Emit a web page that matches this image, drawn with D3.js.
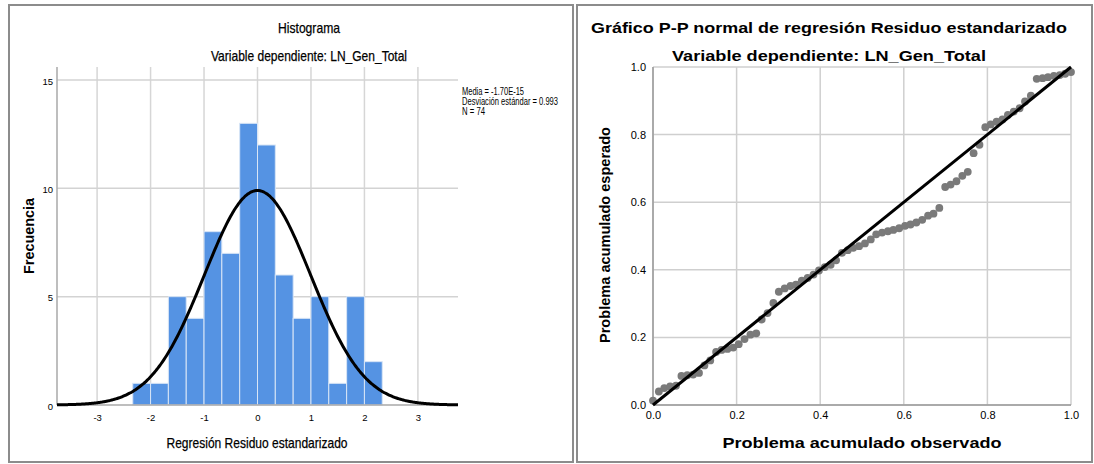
<!DOCTYPE html>
<html>
<head>
<meta charset="utf-8">
<script src="https://cdn.jsdelivr.net/npm/d3@7"></script>
<style>
body { margin: 0; background: #fff; }
svg text { font-family: "Liberation Sans", Arial, sans-serif; fill: #000; }
</style>
</head>
<body>
<script>
"use strict";
// histograma de residuos
const binEdges = [-2.333, -2.0, -1.667, -1.333, -1.0, -0.667, -0.333, 0.0, 0.333, 0.667, 1.0, 1.333, 1.667, 2.0, 2.333];
const binCounts = [1, 1, 5, 4, 8, 7, 13, 12, 6, 4, 5, 1, 5, 2];
const histXTicks = [-3, -2, -1, 0, 1, 2, 3];
const histYTicks = [0, 5, 10, 15];
const residMean = -1.70e-15;
const residSd = 0.993;
const residN = 74;
const statLines = ["Media = -1.70E-15", "Desviación estándar = 0.993", "N = 74"];

// grafico P-P
const observedProb = [0.000, 0.014, 0.027, 0.041, 0.055, 0.068, 0.082, 0.096, 0.110, 0.123,
    0.137, 0.151, 0.164, 0.178, 0.192, 0.205, 0.219, 0.233, 0.247, 0.260,
    0.274, 0.288, 0.301, 0.315, 0.329, 0.342, 0.356, 0.370, 0.384, 0.397,
    0.411, 0.425, 0.438, 0.452, 0.466, 0.479, 0.493, 0.507, 0.521, 0.534,
    0.548, 0.562, 0.575, 0.589, 0.603, 0.616, 0.630, 0.644, 0.658, 0.671,
    0.685, 0.699, 0.712, 0.726, 0.740, 0.753, 0.767, 0.781, 0.795, 0.808,
    0.822, 0.836, 0.849, 0.863, 0.877, 0.890, 0.904, 0.918, 0.932, 0.945,
    0.959, 0.973, 0.986, 1.000];
const expectedProb = [0.013, 0.040, 0.050, 0.055, 0.057, 0.086, 0.088, 0.090, 0.095, 0.117,
    0.132, 0.157, 0.163, 0.166, 0.170, 0.180, 0.195, 0.208, 0.212, 0.253,
    0.272, 0.302, 0.335, 0.345, 0.352, 0.356, 0.368, 0.376, 0.386, 0.398,
    0.408, 0.415, 0.428, 0.450, 0.458, 0.465, 0.470, 0.478, 0.490, 0.505,
    0.510, 0.514, 0.518, 0.523, 0.530, 0.534, 0.540, 0.548, 0.560, 0.566,
    0.583, 0.645, 0.652, 0.662, 0.678, 0.690, 0.745, 0.770, 0.822, 0.830,
    0.838, 0.845, 0.858, 0.868, 0.878, 0.898, 0.915, 0.965, 0.967, 0.970,
    0.974, 0.976, 0.980, 0.985];
const ppTicks = [0, 0.2, 0.4, 0.6, 0.8, 1.0];

const svg = d3.select(document.body).append("svg")
    .attr("width", 1094)
    .attr("height", 464);

const label = function (parent, str, x, y, size, weight, width, rotate) {
    const t = parent.append("text")
        .attr("x", x)
        .attr("y", y)
        .attr("text-anchor", "middle")
        .attr("font-size", size)
        .attr("font-weight", weight)
        .text(str);
    if (width) t.attr("textLength", width).attr("lengthAdjust", "spacingAndGlyphs");
    if (rotate) t.attr("transform", `rotate(-90,${x},${y})`);
    return t;
};

// marcos de los paneles
svg.append("rect").attr("x", 9).attr("y", 5).attr("width", 564).attr("height", 457)
    .attr("fill", "#fff").attr("stroke", "#8c8c8c").attr("stroke-width", 2);
svg.append("rect").attr("x", 577).attr("y", 5).attr("width", 515).attr("height", 457)
    .attr("fill", "#fff").attr("stroke", "#8c8c8c").attr("stroke-width", 2);

// ---- histograma ----
const hx = d3.scaleLinear().domain([-3.75, 3.75]).range([57, 458]);
const hy = d3.scaleLinear().domain([0, 15.6]).range([405, 67]);
const hist = svg.append("g");

hist.selectAll(".vgrid").data(histXTicks).enter().append("line")
    .attr("x1", d => hx(d)).attr("x2", d => hx(d))
    .attr("y1", hy.range()[1]).attr("y2", hy(0))
    .attr("stroke", "#d6d6d6").attr("stroke-width", 1.5);
hist.selectAll(".hgrid").data(histYTicks.filter(d => d > 0)).enter().append("line")
    .attr("x1", hx.range()[0]).attr("x2", hx.range()[1])
    .attr("y1", d => hy(d)).attr("y2", d => hy(d))
    .attr("stroke", "#d3d3d3").attr("stroke-width", 1.5);

hist.selectAll(".bar").data(binCounts).enter().append("rect")
    .attr("x", (d, i) => hx(binEdges[i]))
    .attr("width", (d, i) => hx(binEdges[i + 1]) - hx(binEdges[i]))
    .attr("y", d => hy(d))
    .attr("height", d => hy(0) - hy(d))
    .attr("fill", "#5593e3")
    .attr("stroke", "#d8e5f6")
    .attr("stroke-width", 1);

hist.append("line").attr("x1", hx.range()[0]).attr("x2", hx.range()[0])
    .attr("y1", hy.range()[1]).attr("y2", hy(0)).attr("stroke", "#a8a8a8").attr("stroke-width", 1.5);
hist.append("line").attr("x1", hx.range()[0]).attr("x2", hx.range()[1])
    .attr("y1", hy(0)).attr("y2", hy(0)).attr("stroke", "#a8a8a8").attr("stroke-width", 1.5);

const binWidth = binEdges[1] - binEdges[0];
const density = z => residN * binWidth * Math.exp(-0.5 * Math.pow((z - residMean) / residSd, 2)) / (residSd * Math.sqrt(2 * Math.PI));
const curveX = d3.range(-3.75, 3.7501, 0.025);
hist.append("path")
    .datum(curveX)
    .attr("d", d3.line().x(d => hx(d)).y(d => hy(density(d))).curve(d3.curveBasis))
    .attr("fill", "none")
    .attr("stroke", "#000")
    .attr("stroke-width", 3);

const hxAxis = hist.append("g").attr("transform", `translate(0,${hy(0)})`)
    .call(d3.axisBottom(hx).tickValues(histXTicks).tickSize(0).tickPadding(9).tickFormat(d => String(d)));
const hyAxis = hist.append("g").attr("transform", `translate(${hx.range()[0]},0)`)
    .call(d3.axisLeft(hy).tickValues(histYTicks).tickSize(0).tickPadding(4).tickFormat(d => String(d)));
[hxAxis, hyAxis].forEach(a => {
    a.select(".domain").remove();
    a.selectAll("text")
        .attr("font-family", "\"Liberation Sans Narrow\", \"Liberation Sans\", sans-serif")
        .attr("font-size", 9.5)
        .attr("fill", "#333");
});
hyAxis.selectAll("text").attr("dy", "0.45em");

label(svg, "Histograma", 309, 33, 15, "normal", 62).attr("stroke", "#000").attr("stroke-width", 0.25);
label(svg, "Variable dependiente: LN_Gen_Total", 309, 60.5, 15, "normal", 196).attr("stroke", "#000").attr("stroke-width", 0.25);
label(svg, "Regresión Residuo estandarizado", 257, 448, 15, "normal", 181).attr("stroke", "#000").attr("stroke-width", 0.25);
label(svg, "Frecuencia", 34, 236, 14, "bold", 76, true);

const statWidths = [62, 96, 23];
svg.selectAll(".stat").data(statLines).enter().append("text")
    .attr("x", 462)
    .attr("y", (d, i) => 94.5 + i * 10)
    .attr("font-size", 10)
    .attr("textLength", (d, i) => statWidths[i])
    .attr("lengthAdjust", "spacingAndGlyphs")
    .text(d => d);

// ---- grafico P-P ----
const px = d3.scaleLinear().domain([0, 1]).range([653, 1071]);
const py = d3.scaleLinear().domain([0, 1]).range([405, 67]);
const pp = svg.append("g");

pp.selectAll(".vgrid").data(ppTicks).enter().append("line")
    .attr("x1", d => px(d)).attr("x2", d => px(d))
    .attr("y1", py(1)).attr("y2", py(0))
    .attr("stroke", "#cfcfcf").attr("stroke-width", 1.5);
pp.selectAll(".hgrid").data(ppTicks).enter().append("line")
    .attr("x1", px(0)).attr("x2", px(1))
    .attr("y1", d => py(d)).attr("y2", d => py(d))
    .attr("stroke", "#cfcfcf").attr("stroke-width", 1.5);
pp.append("line").attr("x1", px(0)).attr("x2", px(0)).attr("y1", py(1)).attr("y2", py(0))
    .attr("stroke", "#9a9a9a").attr("stroke-width", 1.5);
pp.append("line").attr("x1", px(0)).attr("x2", px(1)).attr("y1", py(0)).attr("y2", py(0))
    .attr("stroke", "#9a9a9a").attr("stroke-width", 1.5);

pp.selectAll(".pt").data(observedProb).enter().append("circle")
    .attr("cx", d => px(d))
    .attr("cy", (d, i) => py(expectedProb[i]))
    .attr("r", 3.9)
    .attr("fill", "#7a7a7a");

pp.append("path")
    .datum([0, 1])
    .attr("d", d3.line().x(d => px(d)).y(d => py(d)))
    .attr("stroke", "#000")
    .attr("stroke-width", 3);

const pxAxis = pp.append("g").attr("transform", `translate(0,${py(0)})`)
    .call(d3.axisBottom(px).tickValues(ppTicks).tickSize(0).tickPadding(6).tickFormat(d => d.toFixed(1)));
const pyAxis = pp.append("g").attr("transform", `translate(${px(0)},0)`)
    .call(d3.axisLeft(py).tickValues(ppTicks).tickSize(0).tickPadding(7).tickFormat(d => d.toFixed(1)));
[pxAxis, pyAxis].forEach(a => {
    a.select(".domain").remove();
    a.selectAll("text").attr("font-size", 11).attr("fill", "#222");
});

label(svg, "Gráfico P-P normal de regresión Residuo estandarizado", 829, 33, 14, "bold", 476);
label(svg, "Variable dependiente: LN_Gen_Total", 829, 60.5, 14, "bold", 314);
label(svg, "Problema acumulado observado", 862, 448, 14, "bold", 279);
label(svg, "Problema acumulado esperado", 610, 235, 14, "bold", 216, true);
</script>
</body>
</html>
